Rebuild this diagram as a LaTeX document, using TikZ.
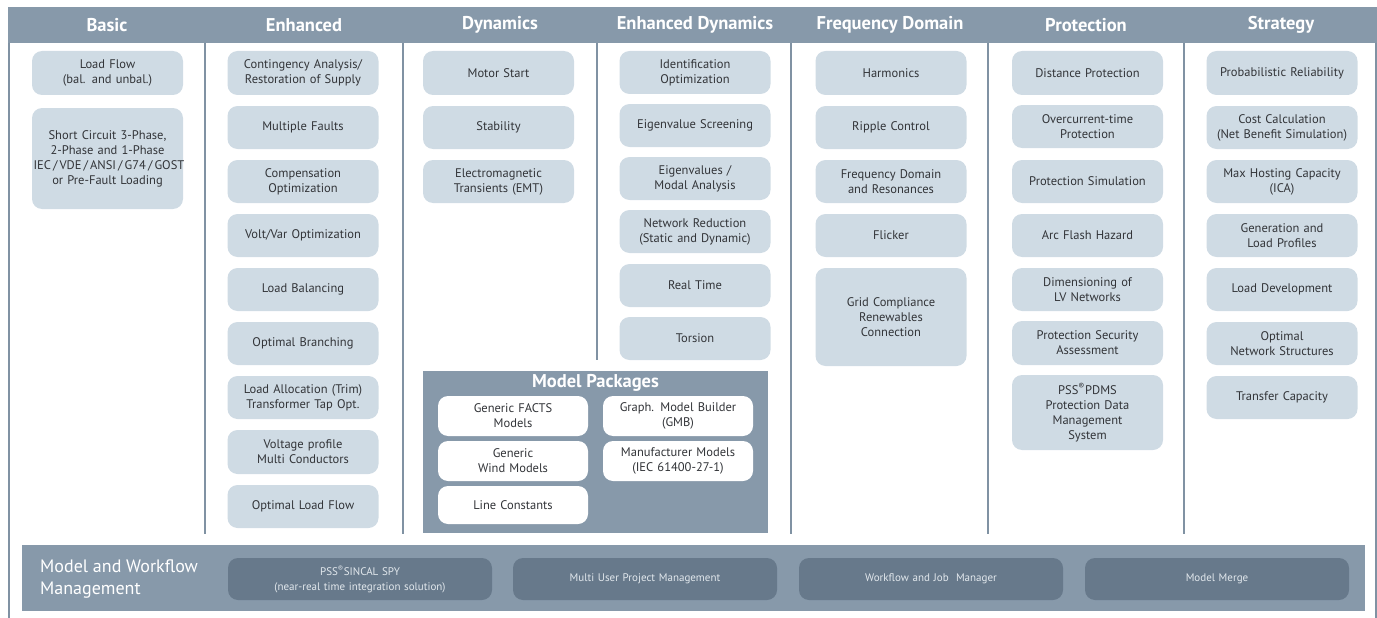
\documentclass[tikz,border=0pt]{standalone}
\usepackage{fontspec}
\setmainfont{PT Sans}
\setsansfont{PT Sans}
\definecolor{hdr}{RGB}{135,153,170}
\definecolor{boxfill}{RGB}{207,219,228}
\definecolor{boxtext}{RGB}{50,52,56}
\definecolor{sepline}{RGB}{128,146,163}
\definecolor{btnfill}{RGB}{103,121,139}
\definecolor{btntext}{RGB}{226,232,237}
\tikzset{
  fbox/.style={fill=boxfill, rounded corners=10pt, minimum width=151pt, text width=148pt, align=center, inner sep=0pt, text=boxtext, font=\fontsize{12.5}{15}\selectfont},
  wbox/.style={fill=white, rounded corners=10pt, minimum width=150pt, minimum height=40pt, text width=147pt, align=center, inner sep=0pt, text=boxtext, font=\fontsize{12.5}{15}\selectfont},
  btn/.style={fill=btnfill, rounded corners=10pt, minimum width=264pt, minimum height=42pt, text width=258pt, align=center, inner sep=0pt, text=btntext, font=\fontsize{11}{15}\selectfont},
  title/.style={text=white, font=\fontsize{18.5}{20}\selectfont\bfseries, inner sep=0pt},
  sep/.style={draw=sepline, line width=2pt},
}
\begin{document}
\begin{tikzpicture}[x=1pt,y=-1pt]
\useasboundingbox (0,0) rectangle (1377,618);
% header
\fill[hdr] (8,7) rectangle (1377,43);
% outer lines
\draw[sep] (9,43) -- (9,618);
\draw[sep] (1375.5,43) -- (1375.5,618);
% column separators
\foreach \x in {205,403,791,988,1184} \draw[sep] (\x,43) -- (\x,534);
\draw[sep] (597,43) -- (597,360);
% titles
\node[title] (tBasic) at (107,25) {Basic};
\node[title] (tEnh) at (304,25) {Enhanced};
\node[title] (tDyn) at (500,25) {Dynamics};
\node[title] (tEDyn) at (695,25) {Enhanced Dynamics};
\node[title] (tFreq) at (890,25) {Frequency Domain};
\node[title] (tProt) at (1086,25) {Protection};
\node[title] (tStr) at (1281,25) {Strategy};
% Basic
\node[fbox, minimum height=44pt] (b1) at (107.5,73) {Load Flow\\(bal. and unbal.)};
\node[fbox, minimum height=101pt] (b2) at (107.5,158.5) {Short Circuit 3-Phase,\\2-Phase and 1-Phase\\IEC\,/\,VDE\,/\,ANSI\,/\,G74\,/\,GOST\\or Pre-Fault Loading};
% Enhanced
\node[fbox, minimum height=44pt] (e1) at (303,73) {Contingency Analysis/\\Restoration of Supply};
\node[fbox, minimum height=43pt] (e2) at (303,127.5) {Multiple Faults};
\node[fbox, minimum height=43pt] (e3) at (303,181.5) {Compensation\\Optimization};
\node[fbox, minimum height=43pt] (e4) at (303,235.5) {Volt/Var Optimization};
\node[fbox, minimum height=43pt] (e5) at (303,289.5) {Load Balancing};
\node[fbox, minimum height=43pt] (e6) at (303,343.5) {Optimal Branching};
\node[fbox, minimum height=43pt] (e7) at (303,397.5) {Load Allocation (Trim)\\Transformer Tap Opt.};
\node[fbox, minimum height=44pt] (e8) at (303,452) {Voltage profile\\Multi Conductors};
\node[fbox, minimum height=43pt] (e9) at (303,506.5) {Optimal Load Flow};
% Dynamics
\node[fbox, minimum height=44pt] (d1) at (498.5,73) {Motor Start};
\node[fbox, minimum height=43pt] (d2) at (498.5,127.5) {Stability};
\node[fbox, minimum height=43pt] (d3) at (498.5,181.5) {Electromagnetic\\Transients (EMT)};
% Enhanced Dynamics
\node[fbox, minimum height=43pt] (ed1) at (695,72.5) {Identification\\Optimization};
\node[fbox, minimum height=43pt] (ed2) at (695,125.5) {Eigenvalue Screening};
\node[fbox, minimum height=43pt] (ed3) at (695,178.5) {Eigenvalues /\\Modal Analysis};
\node[fbox, minimum height=43pt] (ed4) at (695,231.5) {Network Reduction\\(Static and Dynamic)};
\node[fbox, minimum height=43pt] (ed5) at (695,285.5) {Real Time};
\node[fbox, minimum height=43pt] (ed6) at (695,338.5) {Torsion};
% Model packages
\fill[hdr] (423,371) rectangle (768,533);
\node[title] (tMP) at (595.5,383) {Model Packages};
\node[wbox] (mp1) at (513,416) {Generic FACTS\\Models};
\node[wbox] (mp2) at (678,416) {Graph. Model Builder\\(GMB)};
\node[wbox] (mp3) at (513,461) {Generic\\Wind Models};
\node[wbox] (mp4) at (678,461) {Manufacturer Models\\(IEC 61400-27-1)};
\node[wbox, minimum height=38pt] (mp5) at (513,505) {Line Constants};
% Frequency Domain
\node[fbox, minimum height=44pt] (f1) at (891,73) {Harmonics};
\node[fbox, minimum height=43pt] (f2) at (891,127.5) {Ripple Control};
\node[fbox, minimum height=43pt] (f3) at (891,181.5) {Frequency Domain\\and Resonances};
\node[fbox, minimum height=43pt] (f4) at (891,235.5) {Flicker};
\node[fbox, minimum height=98pt] (f5) at (891,317) {Grid Compliance\\Renewables\\Connection};
% Protection
\node[fbox, minimum height=44pt] (p1) at (1087.5,73) {Distance Protection};
\node[fbox, minimum height=43pt] (p2) at (1087.5,126.5) {Overcurrent-time\\Protection};
\node[fbox, minimum height=43pt] (p3) at (1087.5,181.5) {Protection Simulation};
\node[fbox, minimum height=43pt] (p4) at (1087.5,235.5) {Arc Flash Hazard};
\node[fbox, minimum height=43pt] (p5) at (1087.5,289.5) {Dimensioning of\\LV Networks};
\node[fbox, minimum height=44pt] (p6) at (1087.5,343) {Protection Security\\Assessment};
\node[fbox, minimum height=75pt] (p7) at (1087.5,412.5) {PSS\textsuperscript{®}PDMS\\Protection Data\\Management\\System};
% Strategy
\node[fbox, minimum height=44pt] (s1) at (1282,73) {Probabilistic Reliability};
\node[fbox, minimum height=43pt] (s2) at (1282,127.5) {Cost Calculation\\(Net Benefit Simulation)};
\node[fbox, minimum height=43pt] (s3) at (1282,181.5) {Max Hosting Capacity\\(ICA)};
\node[fbox, minimum height=43pt] (s4) at (1282,235.5) {Generation and\\Load Profiles};
\node[fbox, minimum height=43pt] (s5) at (1282,289.5) {Load Development};
\node[fbox, minimum height=43pt] (s6) at (1282,343.5) {Optimal\\Network Structures};
\node[fbox, minimum height=43pt] (s7) at (1282,397.5) {Transfer Capacity};
% bottom bar
\fill[hdr] (22,545) rectangle (1365,611);
\node[text=white, font=\fontsize{18}{22}\selectfont, align=left, anchor=west, inner sep=0pt] (mwm) at (40,579) {Model and Workflow\\Management};
\node[btn] (w1) at (360,579) {PSS\textsuperscript{®}SINCAL SPY\\(near-real time integration solution)};
\node[btn] (w2) at (645,579) {Multi User Project Management};
\node[btn] (w3) at (931,579) {Workflow and Job\ \ Manager};
\node[btn] (w4) at (1217,579) {Model Merge};
\end{tikzpicture}
\end{document}
